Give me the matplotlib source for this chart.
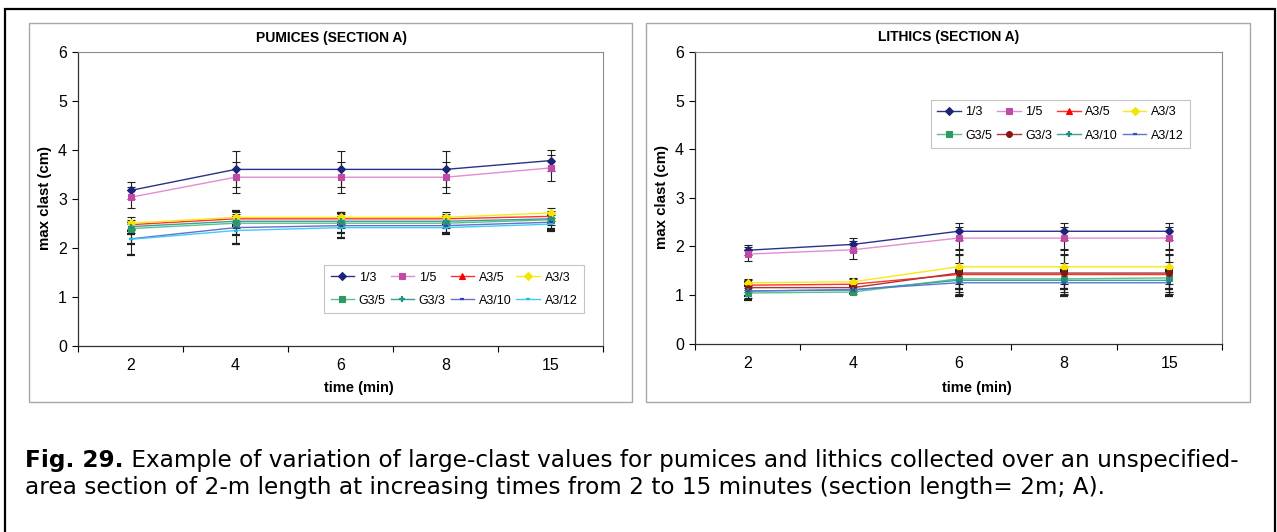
import numpy as np
import matplotlib
matplotlib.use("Agg")
import matplotlib.pyplot as plt
from matplotlib.patches import Rectangle
from matplotlib.lines import Line2D

# ---------------- data ----------------
times = ["2", "4", "6", "8", "15"]
series_names = ["1/3", "1/5", "A3/5", "A3/3", "G3/5", "G3/3", "A3/10", "A3/12"]

# pumices (section A), max clast in cm
pum_1_3 = [3.17, 3.60, 3.60, 3.60, 3.78]
pum_1_5 = [3.03, 3.44, 3.44, 3.44, 3.63]
pum_a3_5 = [2.47, 2.59, 2.59, 2.59, 2.64]
pum_a3_3 = [2.50, 2.62, 2.62, 2.62, 2.71]
pum_g3_5 = [2.39, 2.50, 2.50, 2.50, 2.57]
pum_g3_3 = [2.43, 2.54, 2.54, 2.54, 2.59]
pum_a3_10 = [2.18, 2.41, 2.45, 2.45, 2.52]
pum_a3_12 = [2.17, 2.35, 2.41, 2.41, 2.48]

pum_1_3_err = [0.17, 0.37, 0.37, 0.37, 0.22]
pum_1_5_err = [0.22, 0.32, 0.32, 0.32, 0.27]
pum_a3_5_err = [0.10, 0.10, 0.10, 0.10, 0.10]
pum_a3_3_err = [0.12, 0.10, 0.10, 0.10, 0.11]
pum_g3_5_err = [0.10, 0.10, 0.10, 0.10, 0.10]
pum_g3_3_err = [0.08, 0.08, 0.08, 0.08, 0.08]
pum_a3_10_err = [0.33, 0.33, 0.25, 0.18, 0.17]
pum_a3_12_err = [0.10, 0.10, 0.10, 0.10, 0.10]

# lithics (section A), max clast in cm
lit_1_3 = [1.92, 2.04, 2.31, 2.31, 2.31]
lit_1_5 = [1.84, 1.93, 2.17, 2.17, 2.17]
lit_a3_5 = [1.20, 1.22, 1.42, 1.42, 1.42]
lit_a3_3 = [1.25, 1.27, 1.58, 1.58, 1.58]
lit_g3_5 = [1.04, 1.06, 1.33, 1.33, 1.35]
lit_g3_3 = [1.15, 1.15, 1.45, 1.45, 1.45]
lit_a3_10 = [1.08, 1.10, 1.30, 1.30, 1.30]
lit_a3_12 = [1.08, 1.11, 1.25, 1.25, 1.25]

lit_1_3_err = [0.10, 0.14, 0.18, 0.18, 0.18]
lit_1_5_err = [0.15, 0.19, 0.23, 0.23, 0.23]
lit_a3_5_err = [0.10, 0.10, 0.41, 0.41, 0.41]
lit_a3_3_err = [0.07, 0.08, 0.35, 0.35, 0.35]
lit_g3_5_err = [0.10, 0.05, 0.33, 0.33, 0.33]
lit_g3_3_err = [0.08, 0.08, 0.40, 0.40, 0.40]
lit_a3_10_err = [0.10, 0.07, 0.18, 0.18, 0.18]
lit_a3_12_err = [0.18, 0.08, 0.27, 0.27, 0.27]

caption_bold = "Fig. 29."
caption_line1 = (" Example of variation of large-clast values for pumices and lithics "
                 "collected over an unspecified-")
caption_line2 = ("area section of 2-m length at increasing times from 2 to 15 minutes "
                 "(section length= 2m; A).")

# ---------------- styles: (line colour, marker colour, marker, size) ----------------
pum_styles = [
    ("#2a3288", "#1c2478", "D", 3.8),
    ("#e08ed2", "#c24aa6", "s", 4.4),
    ("#ff3030", "#ff0000", "^", 4.8),
    ("#f8ea10", "#f4e400", "D", 3.8),
    ("#5cbf8e", "#2c9a62", "s", 4.8),
    ("#3a9e98", "#2a8e88", "+", 5.0),
    ("#6670c8", "#3040b0", "_", 3.5),
    ("#40ccf8", "#20b8f0", "_", 3.5),
]
lit_styles = [
    ("#2a3288", "#1c2478", "D", 3.8),
    ("#e08ed2", "#c24aa6", "s", 4.4),
    ("#ff3030", "#ff0000", "^", 4.8),
    ("#f8ea10", "#f4e400", "D", 3.8),
    ("#5cbf8e", "#2c9a62", "s", 4.8),
    ("#b03434", "#8a1414", "o", 4.2),
    ("#38a49a", "#208c80", "+", 5.0),
    ("#5a78d0", "#3050b8", "_", 3.5),
]

plt.rcParams["font.family"] = ["Liberation Sans", "DejaVu Sans"]

W, H = 1277, 532
fig = plt.figure(figsize=(W / 100, H / 100), dpi=100)


def fx(px):
    return px / W


def fy(py):
    return 1 - py / H


def px_axes(x0, y0, x1, y1):
    return fig.add_axes([fx(x0), fy(y1), (x1 - x0) / W, (y1 - y0) / H])


# outer black frame and the two grey chart boxes
fig.patches.append(Rectangle((fx(4.5), fy(545)), (1275 - 4.5) / W, (545 - 8.5) / H,
                             transform=fig.transFigure, fill=False,
                             edgecolor="black", lw=1.6))
for bx0, bx1 in [(29, 632), (646, 1250)]:
    fig.patches.append(Rectangle((fx(bx0), fy(401.5)), (bx1 - bx0) / W, (401.5 - 23) / H,
                                 transform=fig.transFigure, fill=False,
                                 edgecolor="#a8a8a8", lw=1.0))


def draw_chart(ax, values, errors, styles, legend_center):
    x = np.arange(len(times)) + 0.5
    handles = []
    for name, vals, errs, (lc, mc, mk, ms) in zip(series_names, values, errors, styles):
        mew = 1.6 if mk in ("_", "+") else 0.8
        ax.errorbar(x, vals, yerr=errs, color=lc, lw=1.0, marker=mk, ms=ms,
                    mfc=mc, mec=mc, mew=mew, ecolor="#202020", elinewidth=0.8,
                    capsize=3.2, capthick=0.8)
        handles.append(Line2D([], [], color=lc, lw=1.0, marker=mk, ms=ms,
                              mfc=mc, mec=mc, mew=mew, label=name))
    ax.set_xlim(0, len(times))
    ax.set_ylim(0, 6)
    ax.set_xticks(range(len(times) + 1))
    ax.set_xticklabels([])
    ax.set_xticks(x, minor=True)
    ax.set_xticklabels(times, minor=True)
    ax.tick_params(axis="x", which="major", length=4, width=0.8, direction="out")
    ax.tick_params(axis="x", which="minor", length=0, pad=9, labelsize=11.5)
    ax.set_yticks(range(7))
    ax.tick_params(axis="y", length=4, width=0.8, direction="out", pad=4, labelsize=11.5)
    for s in ("top", "right"):
        ax.spines[s].set_color("#8c8c8c")
        ax.spines[s].set_linewidth(0.8)
    for s in ("left", "bottom"):
        ax.spines[s].set_color("#303030")
        ax.spines[s].set_linewidth(0.9)

    # excel fills the legend row by row, matplotlib column by column
    order = [0, 4, 1, 5, 2, 6, 3, 7]
    leg = ax.legend([handles[i] for i in order], [series_names[i] for i in order],
                    ncol=4, loc="center", bbox_to_anchor=legend_center,
                    fontsize=9, handlelength=1.9, handletextpad=0.35,
                    columnspacing=0.4, labelspacing=0.9, borderpad=0.5,
                    fancybox=False, framealpha=1, edgecolor="#c4c4c4")
    leg.get_frame().set_linewidth(0.8)


ax1 = px_axes(78, 52, 603, 345.5)
draw_chart(ax1,
           [pum_1_3, pum_1_5, pum_a3_5, pum_a3_3, pum_g3_5, pum_g3_3, pum_a3_10, pum_a3_12],
           [pum_1_3_err, pum_1_5_err, pum_a3_5_err, pum_a3_3_err, pum_g3_5_err,
            pum_g3_3_err, pum_a3_10_err, pum_a3_12_err],
           pum_styles, (0.716, 0.192))

ax2 = px_axes(695, 52, 1222, 343.5)
draw_chart(ax2,
           [lit_1_3, lit_1_5, lit_a3_5, lit_a3_3, lit_g3_5, lit_g3_3, lit_a3_10, lit_a3_12],
           [lit_1_3_err, lit_1_5_err, lit_a3_5_err, lit_a3_3_err, lit_g3_5_err,
            lit_g3_3_err, lit_a3_10_err, lit_a3_12_err],
           lit_styles, (0.693, 0.753))

# titles and axis labels
fig.text(fx(331), fy(38), "PUMICES (SECTION A)", ha="center", va="center",
         fontsize=10, fontweight="bold")
fig.text(fx(948.5), fy(37), "LITHICS (SECTION A)", ha="center", va="center",
         fontsize=10, fontweight="bold")
for cx, cy in [(359, 388), (977, 388)]:
    fig.text(fx(cx), fy(cy), "time (min)", ha="center", va="center",
             fontsize=10.5, fontweight="bold")
for cx, cy in [(45, 198), (662, 197)]:
    fig.text(fx(cx), fy(cy), "max clast (cm)", ha="center", va="center",
             rotation=90, fontsize=10.8, fontweight="bold")

# caption: bold figure number followed by regular text (wide sans face)
cap_font = ["DejaVu Sans"]
cap_size = 16.7
t_bold = fig.text(fx(25), fy(467), caption_bold, ha="left", va="baseline",
                  fontsize=cap_size, fontweight="bold", family=cap_font)
fig.canvas.draw()
bb = t_bold.get_window_extent(fig.canvas.get_renderer())
fig.text(bb.x1 / W, fy(467), caption_line1, ha="left", va="baseline",
         fontsize=cap_size, family=cap_font)
fig.text(fx(25), fy(494), caption_line2, ha="left", va="baseline",
         fontsize=cap_size, family=cap_font)

fig.savefig("out.png", dpi=100)
